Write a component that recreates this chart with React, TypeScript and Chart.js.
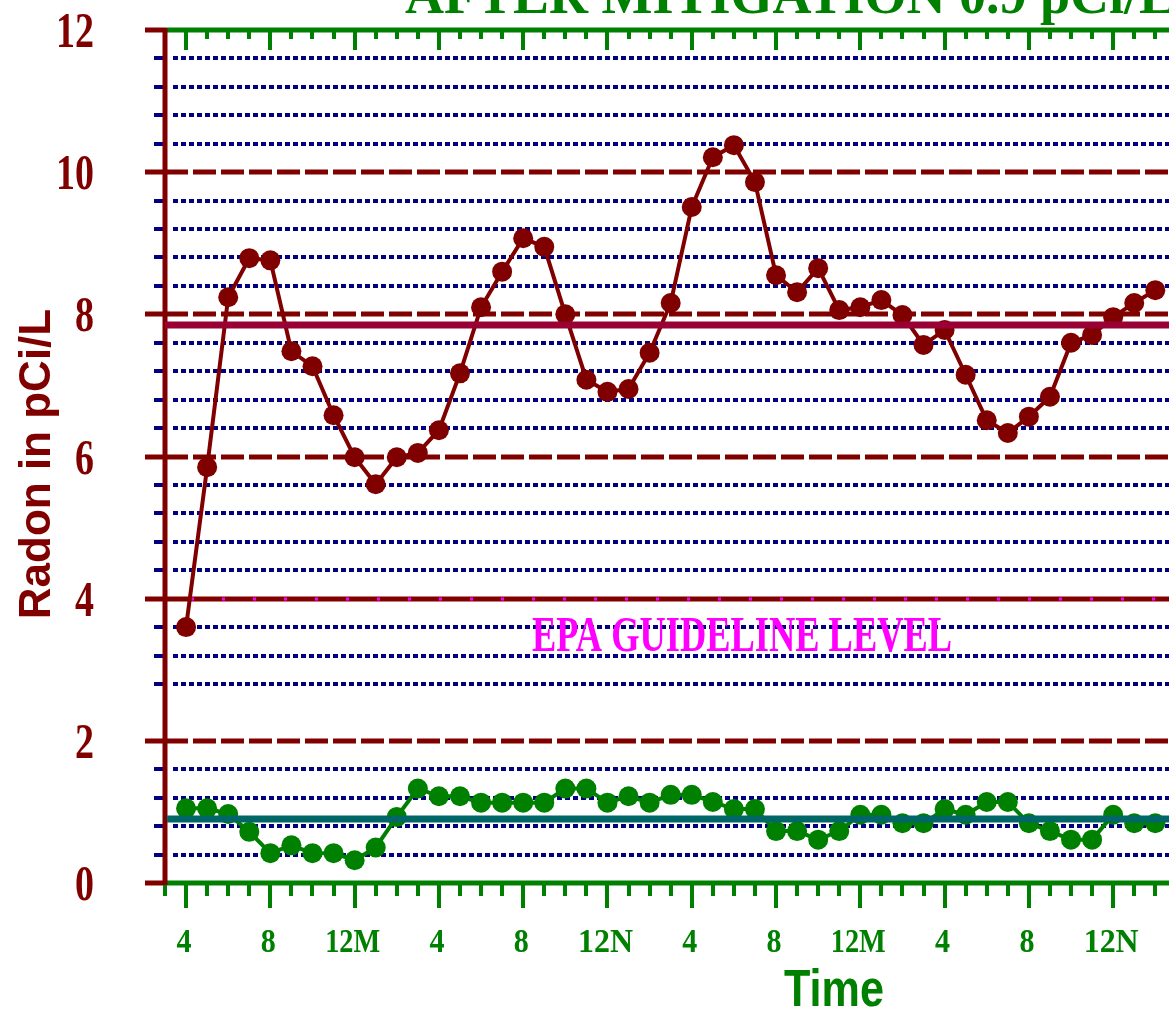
import React, { useEffect, useRef } from "react";
import { Chart, registerables } from "chart.js";

Chart.register(...registerables);

// Hours after the first reading (0 = 4 PM)
const HOURS = [
  0, 1, 2, 3, 4, 5, 6, 7, 8, 9, 10, 11, 12, 13, 14, 15, 16, 17, 18, 19, 20, 21, 22, 23,
  24, 25, 26, 27, 28, 29, 30, 31, 32, 33, 34, 35, 36, 37, 38, 39, 40, 41, 42, 43, 44, 45, 46,
];

// Radon before mitigation (pCi/L)
const RADON_BEFORE = [
  3.6, 5.85, 8.24, 8.79, 8.76, 7.48, 7.27, 6.58, 5.99, 5.61, 5.99, 6.05, 6.37, 7.17, 8.1, 8.6,
  9.07, 8.95, 8.0, 7.08, 6.91, 6.95, 7.46, 8.16, 9.51, 10.21, 10.38, 9.86, 8.55, 8.31, 8.65,
  8.06, 8.1, 8.2, 7.99, 7.57, 7.78, 7.15, 6.51, 6.33, 6.56, 6.84, 7.6, 7.71, 7.96, 8.16, 8.34,
];

// Radon after mitigation (pCi/L)
const RADON_AFTER = [
  1.05, 1.05, 0.97, 0.72, 0.42, 0.53, 0.42, 0.42, 0.32, 0.5, 0.93, 1.33, 1.22, 1.22, 1.13, 1.13,
  1.13, 1.13, 1.33, 1.33, 1.13, 1.22, 1.13, 1.24, 1.24, 1.14, 1.04, 1.04, 0.73, 0.73, 0.61,
  0.73, 0.96, 0.96, 0.84, 0.84, 1.04, 0.96, 1.14, 1.14, 0.84, 0.73, 0.61, 0.61, 0.96, 0.84, 0.84,
];

const AVG_BEFORE = 7.85;
const AVG_AFTER = 0.9;
const EPA_LEVEL = 4;

const X_MIN = -1;
const X_MAX = 46.65;
const X_LABEL_HOURS = [0, 4, 8, 12, 16, 20, 24, 28, 32, 36, 40, 44];
const X_LABELS = ["4", "8", "12M", "4", "8", "12N", "4", "8", "12M", "4", "8", "12N"];

const Y_LABEL_VALUES = [0, 2, 4, 6, 8, 10, 12];
const Y_LABELS = ["0", "2", "4", "6", "8", "10", "12"];
const Y_DASHED = [2, 6, 8, 10];
const Y_DOTTED = [
  0.4, 0.8, 1.2, 1.6, 2.8, 3.2, 3.6, 4.4, 4.8, 5.2, 5.6, 6.4, 6.8, 7.2, 7.6, 8.4, 8.8, 9.2, 9.6,
  10.4, 10.8, 11.2, 11.6,
];

const TITLE = "AFTER MITIGATION 0.9 pCi/L";
const EPA_TEXT = "EPA GUIDELINE LEVEL";
const X_TITLE = "Time";
const Y_TITLE = "Radon in pCi/L";

const DARK_RED = "#800000";
const GREEN = "#008000";
const NAVY = "#000080";

const decorPlugin = {
  id: "decor",
  beforeDatasetsDraw(chart: any) {
    const { ctx, chartArea: a, scales } = chart;
    const x = scales.x;
    const y = scales.y;
    const right = chart.width;
    ctx.save();
    ctx.lineCap = "butt";

    // navy dotted minor grid
    ctx.strokeStyle = NAVY;
    ctx.lineWidth = 4;
    for (const v of Y_DOTTED) {
      const py = Math.round(y.getPixelForValue(v));
      ctx.setLineDash([]);
      ctx.beginPath();
      ctx.moveTo(a.left - 11, py);
      ctx.lineTo(a.left - 1, py);
      ctx.stroke();
      ctx.setLineDash([5, 3]);
      ctx.beginPath();
      ctx.moveTo(a.left + 8, py);
      ctx.lineTo(right, py);
      ctx.stroke();
    }

    // dark red dashed major grid
    ctx.strokeStyle = DARK_RED;
    ctx.lineWidth = 5;
    for (const v of Y_DASHED) {
      const py = Math.round(y.getPixelForValue(v));
      ctx.setLineDash([]);
      ctx.beginPath();
      ctx.moveTo(a.left - 20, py);
      ctx.lineTo(a.left + 23, py);
      ctx.stroke();
      ctx.setLineDash([23, 5]);
      ctx.beginPath();
      ctx.moveTo(a.left + 28, py);
      ctx.lineTo(right, py);
      ctx.stroke();
    }

    // EPA guideline line
    {
      const py = Math.round(y.getPixelForValue(EPA_LEVEL));
      ctx.setLineDash([]);
      ctx.strokeStyle = DARK_RED;
      ctx.lineWidth = 5;
      ctx.beginPath();
      ctx.moveTo(a.left - 20, py);
      ctx.lineTo(right, py);
      ctx.stroke();
      ctx.setLineDash([3, 28]);
      ctx.strokeStyle = "#ff00ff";
      ctx.lineWidth = 3;
      ctx.beginPath();
      ctx.moveTo(a.left + 26, py);
      ctx.lineTo(right, py);
      ctx.stroke();
    }

    ctx.setLineDash([]);
    // top and bottom green axes with stubs
    for (const py of [a.top, a.bottom]) {
      ctx.strokeStyle = DARK_RED;
      ctx.lineWidth = 5;
      ctx.beginPath();
      ctx.moveTo(a.left - 20, py);
      ctx.lineTo(a.left, py);
      ctx.stroke();
      ctx.strokeStyle = GREEN;
      ctx.beginPath();
      ctx.moveTo(a.left, py);
      ctx.lineTo(right, py);
      ctx.stroke();
    }
    // hour ticks
    ctx.strokeStyle = GREEN;
    ctx.lineWidth = 4;
    for (let h = X_MIN; h <= X_MAX; h += 1) {
      const px = Math.round(x.getPixelForValue(h));
      const long = h % 4 === 0;
      ctx.beginPath();
      ctx.moveTo(px, a.top);
      ctx.lineTo(px, a.top + (long ? 20 : 9));
      ctx.stroke();
      ctx.beginPath();
      ctx.moveTo(px, a.bottom);
      ctx.lineTo(px, a.bottom + (long ? 25 : 13));
      ctx.stroke();
    }

    // left axis
    ctx.strokeStyle = DARK_RED;
    ctx.lineWidth = 5;
    ctx.beginPath();
    ctx.moveTo(a.left, a.top - 2);
    ctx.lineTo(a.left, a.bottom + 2);
    ctx.stroke();
    ctx.restore();
  },
  afterDatasetsDraw(chart: any) {
    const { ctx, chartArea: a, scales } = chart;
    const x = scales.x;
    const y = scales.y;
    ctx.save();

    // y tick labels
    ctx.fillStyle = DARK_RED;
    ctx.font = "bold 50px 'Liberation Serif'";
    ctx.textAlign = "right";
    ctx.textBaseline = "alphabetic";
    Y_LABEL_VALUES.forEach((v, i) => {
      const py = y.getPixelForValue(v);
      const t = Y_LABELS[i];
      ctx.fillText(t, a.left - 71, py + 17, t.length * 19);
    });

    // x tick labels
    ctx.fillStyle = GREEN;
    ctx.font = "bold 34px 'Liberation Serif'";
    ctx.textAlign = "center";
    X_LABEL_HOURS.forEach((h, i) => {
      const px = x.getPixelForValue(h) - 2;
      const t = X_LABELS[i];
      ctx.fillText(t, px, a.bottom + 69, t.length === 1 ? 15 : 55);
    });

    // x title
    ctx.font = "bold 52px 'Liberation Sans'";
    ctx.fillText(X_TITLE, 834, a.bottom + 123, 100);

    // y title
    ctx.save();
    ctx.translate(38, 464);
    ctx.rotate(-Math.PI / 2);
    ctx.fillStyle = DARK_RED;
    ctx.font = "bold 44px 'Liberation Sans'";
    ctx.textAlign = "center";
    ctx.textBaseline = "middle";
    ctx.fillText(Y_TITLE, 0, 0, 312);
    ctx.restore();

    // EPA text
    ctx.fillStyle = "#ff00ff";
    ctx.font = "bold 50px 'Liberation Serif'";
    ctx.textAlign = "left";
    ctx.fillText(EPA_TEXT, 532, y.getPixelForValue(EPA_LEVEL) + 52, 420);

    // title (cut off at top)
    ctx.fillStyle = GREEN;
    ctx.font = "bold 54px 'Liberation Serif'";
    ctx.fillText(TITLE, 405, 13, 790);

    ctx.restore();
  },
};

export default function App() {
  const canvasRef = useRef<HTMLCanvasElement | null>(null);

  useEffect(() => {
    const canvas = canvasRef.current;
    if (!canvas) return;
    const before = HOURS.map((h, i) => ({ x: h, y: RADON_BEFORE[i] }));
    const after = HOURS.map((h, i) => ({ x: h, y: RADON_AFTER[i] }));
    const chart = new Chart(canvas, {
      type: "line",
      data: {
        datasets: [
          {
            label: "Average before",
            data: [
              { x: X_MIN - 0.1, y: AVG_BEFORE },
              { x: X_MAX, y: AVG_BEFORE },
            ],
            borderColor: "#990033",
            borderWidth: 7,
            pointRadius: 0,
            order: 0,
          },
          {
            label: "Average after",
            data: [
              { x: X_MIN + 0.1, y: AVG_AFTER },
              { x: X_MAX, y: AVG_AFTER },
            ],
            borderColor: "#006666",
            borderWidth: 7,
            pointRadius: 0,
            order: 0,
          },
          {
            label: "Before mitigation",
            data: before,
            borderColor: DARK_RED,
            backgroundColor: DARK_RED,
            borderWidth: 4,
            pointRadius: 10,
            pointBorderWidth: 0,
            pointBackgroundColor: DARK_RED,
            tension: 0,
            order: 1,
          },
          {
            label: "After mitigation",
            data: after,
            borderColor: GREEN,
            backgroundColor: GREEN,
            borderWidth: 4,
            pointRadius: 10,
            pointBorderWidth: 0,
            pointBackgroundColor: GREEN,
            tension: 0,
            order: 1,
          },
        ],
      },
      options: {
        animation: false,
        responsive: false,
        maintainAspectRatio: false,
        devicePixelRatio: 1,
        events: [],
        layout: { autoPadding: false, padding: { left: 165, top: 30, right: 0, bottom: 129 } },
        plugins: { legend: { display: false }, tooltip: { enabled: false } },
        scales: {
          x: { type: "linear", min: X_MIN, max: X_MAX, display: false },
          y: { type: "linear", min: 0, max: 12, display: false },
        },
      },
      plugins: [decorPlugin],
    });
    return () => chart.destroy();
  }, []);

  return (
    <div style={{ position: "absolute", left: 0, top: 0, width: 1169, height: 1012, background: "#fff", overflow: "hidden" }}>
      <canvas ref={canvasRef} width={1169} height={1012} style={{ display: "block" }} />
    </div>
  );
}
